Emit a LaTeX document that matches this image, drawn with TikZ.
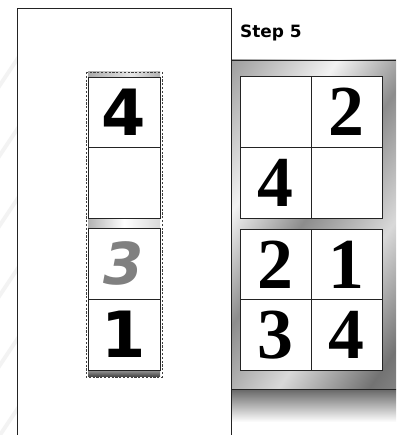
\documentclass[tikz,border=0pt]{standalone}
\usepackage{fontspec}
\newfontfamily\stepfont{DejaVu Sans}
\newfontfamily\cellsans{DejaVu Sans}
\newfontfamily\cellserif{Liberation Serif}

\definecolor{framegray}{RGB}{35,35,35}
\definecolor{digitgray}{RGB}{128,128,128}
\definecolor{streakgray}{RGB}{243,243,243}

\pgfdeclarehorizontalshading{metal}{100bp}{color(0bp)=(black!65); color(20bp)=(black!30); color(34bp)=(black!5); color(48bp)=(black!45); color(64bp)=(black!15); color(80bp)=(black!55); color(100bp)=(black!30)}
\pgfdeclarehorizontalshading{thinbar}{100bp}{color(0bp)=(black!55); color(35bp)=(black!25); color(55bp)=(black!10); color(75bp)=(black!30); color(100bp)=(black!50)}

\tikzset{
    sheetcell/.style={draw=framegray,line width=0.7pt,fill=white,inner sep=0pt,
        minimum width=71bp,minimum height=71bp},
    serifdigit/.style={sheetcell,font=\cellserif\bfseries\fontsize{72}{72}\selectfont},
    sansdigit/.style={sheetcell,minimum width=72bp,
        font=\cellsans\bfseries\fontsize{64}{64}\selectfont}
}

\begin{document}
\begin{tikzpicture}[x=1bp,y=-1bp,line join=miter]
    \useasboundingbox (0,0) rectangle (396,435);

    % faint streaks behind the sheet
    \begin{scope}
        \clip (0,0) rectangle (17,435);
        \foreach \y in {60,130,200,270,340,410} {
            \draw[streakgray,line width=4bp] (-10,\y+40) -- (30,\y-20);
        }
    \end{scope}

    % left sheet
    \fill[white] (17,8) rectangle (231,435);
    \draw[framegray,line width=0.9pt] (17,435) -- (17,8) -- (231,8) -- (231,435);

    % right panel, metal look
    \shade[shading=metal,shading angle=-35] (231,60) rectangle (396,389);
    \shade[top color=black!60,bottom color=white] (231,389) rectangle (396,422);
    \draw[framegray,line width=0.9pt] (231,60) -- (396,60);
    \draw[framegray,line width=0.9pt] (231,389) -- (396,389);
    \draw[framegray,line width=0.9pt] (231,8) -- (231,435);
    \node[anchor=base west,inner sep=0pt,font=\stepfont\bfseries\fontsize{17}{17}\selectfont]
        (steplabel) at (240,38) {Step 5};

    % folded strip on the left sheet
    \shade[shading=thinbar] (88,72) rectangle (160,77);
    \shade[left color=black!30,right color=black!15,middle color=white] (88,218) rectangle (160,228);
    \shade[top color=black!40,bottom color=black!70] (88,370) rectangle (160,376);
    \node[sansdigit,minimum height=70bp] (strip4) at (124,112) {4};
    \node[sansdigit] (stripblank) at (124,182.5) {};
    \node[sansdigit,text=digitgray,font=\cellsans\bfseries\itshape\fontsize{58}{58}\selectfont]
        (strip3) at (124,263.5) {3};
    \node[sansdigit] (strip1) at (124,334.5) {1};
    \draw[black!75,dash pattern=on 2.2bp off 1.6bp,line width=0.7pt] (86,72) rectangle (162,377);

    % upper sheet
    \node[serifdigit] (upA) at (275.5,111.5) {};
    \node[serifdigit] (upB) at (346.5,111.5) {2};
    \node[serifdigit] (upC) at (275.5,182.5) {4};
    \node[serifdigit] (upD) at (346.5,182.5) {};

    % lower sheet
    \node[serifdigit,minimum height=70.5bp] (loA) at (275.5,264.5) {2};
    \node[serifdigit,minimum height=70.5bp] (loB) at (346.5,264.5) {1};
    \node[serifdigit,minimum height=70.5bp] (loC) at (275.5,335) {3};
    \node[serifdigit,minimum height=70.5bp] (loD) at (346.5,335) {4};
\end{tikzpicture}
\end{document}
